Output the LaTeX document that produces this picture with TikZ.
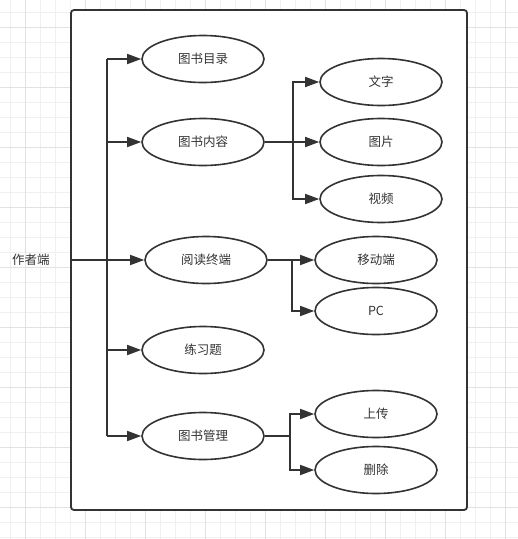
\documentclass[tikz,border=0pt]{standalone}
\usepackage{fontspec}
\setmainfont{Noto Sans CJK SC}
\usetikzlibrary{shapes.geometric,arrows.meta}
\definecolor{ink}{HTML}{333333}
\definecolor{gridminor}{HTML}{F0F0F0}
\definecolor{gridmajor}{HTML}{E2E2E2}
\tikzset{
	usecase/.style={ellipse, draw=ink, line width=1.6pt, fill=white, minimum width=122pt, minimum height=47pt, inner sep=0pt, text=ink, font=\fontsize{12.5}{15}\selectfont},
	arr/.style={draw=ink, line width=1.6pt, -{Triangle[length=14pt,width=10pt]}},
	link/.style={draw=ink, line width=1.6pt},
}

\begin{document}
\begin{tikzpicture}[x=1pt,y=-1pt]
		%%%%% START %%%%%
		\useasboundingbox (0,0) rectangle (518,539);
		
		% grid
		\foreach \gx in {10,25,...,515} \draw[gridminor, line width=0.8pt] (\gx,0) -- (\gx,539);
		\foreach \gy in {12,27,...,537} \draw[gridminor, line width=0.8pt] (0,\gy) -- (518,\gy);
		\foreach \gx in {25,85,...,505} \draw[gridmajor, line width=0.8pt] (\gx,0) -- (\gx,539);
		\foreach \gy in {27,87,...,537} \draw[gridmajor, line width=0.8pt] (0,\gy) -- (518,\gy);
		
		% system box
		\node[draw=ink, fill=white, line width=1.8pt, rounded corners=3pt, minimum width=396pt, minimum height=500pt, inner sep=0pt] (frame) at (269,260) {};
		
		\node[text=ink, font=\fontsize{12.5}{15}\selectfont] (author) at (31,260) {作者端};
		
		% first level
		\node[usecase] (catalog) at (203,59) {图书目录};
		\node[usecase] (content) at (203,142) {图书内容};
		\node[usecase] (reader) at (206,260) {阅读终端};
		\node[usecase] (exercise) at (203,350) {练习题};
		\node[usecase] (manage) at (203,436) {图书管理};
		
		% second level
		\node[usecase] (text) at (381,82) {文字};
		\node[usecase] (image) at (381,142) {图片};
		\node[usecase] (video) at (381,199) {视频};
		\node[usecase] (mobile) at (376,260) {移动端};
		\node[usecase] (pc) at (376,311) {PC};
		\node[usecase] (upload) at (376,414) {上传};
		\node[usecase] (delete) at (376,470) {删除};
		
		% trunk
		\coordinate (trunk) at (107,260);
		\draw[link] (trunk |- catalog) -- (trunk |- manage);
		\draw[arr] (frame.west) -- (reader);
		\draw[arr] (trunk |- catalog) -- (catalog);
		\draw[arr] (trunk |- content) -- (content);
		\draw[arr] (trunk |- exercise) -- (exercise);
		\draw[arr] (trunk |- manage) -- (manage);
		
		% branches
		\draw[link] (content.east) -- ++(28,0) coordinate (splitA);
		\draw[arr] (splitA) |- (text);
		\draw[arr] (splitA) -- (image);
		\draw[arr] (splitA) |- (video);
		
		\draw[link] (reader.east) -- ++(24,0) coordinate (splitB);
		\draw[arr] (splitB) -- (mobile);
		\draw[arr] (splitB) |- (pc);
		
		\draw[link] (manage.east) -- ++(25,0) coordinate (splitC);
		\draw[arr] (splitC) |- (upload);
		\draw[arr] (splitC) |- (delete);
		%%%%% END %%%%%
\end{tikzpicture}
\end{document}
